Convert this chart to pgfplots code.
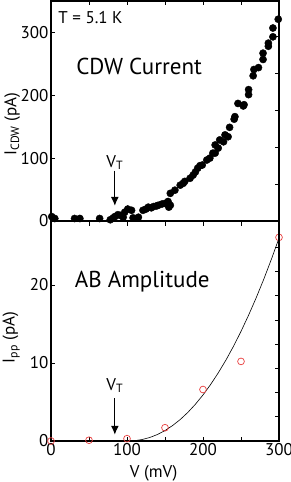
\documentclass[border=0pt]{standalone}
\usepackage{pgfplots}
\pgfplotsset{compat=1.18}
\usepackage{fontspec}
\setmainfont{PT Sans}
\usetikzlibrary{arrows.meta}
\definecolor{circred}{RGB}{232,62,62}
\begin{document}
\begin{tikzpicture}
\pgfplotsset{
  panel/.style={
    scale only axis, width=228pt, height=220pt,
    xmin=0, xmax=300,
    tick align=inside, major tick length=4.5pt,
    every tick/.style={line width=0.8pt, black},
    axis line style={line width=2pt},
    /pgf/number format/assume math mode=true,
    ticklabel style={font=\fontsize{17}{20}\selectfont},
    label style={font=\fontsize{17}{20}\selectfont},
    xticklabel style={yshift=1pt},
    clip=false,
  },
  overlayR/.style={
    scale only axis, width=228pt, height=220pt,
    xmin=0, xmax=300, hide x axis,
    axis y line*=right, y axis line style={line width=2pt},
    tick align=inside, major tick length=4.5pt,
    every tick/.style={line width=0.8pt, black},
    yticklabels={},
  }
}
% ---------------- top panel
\begin{axis}[panel, at={(0pt,220pt)}, anchor=south west,
  ymin=0, ymax=350,
  ytick={0,100,200,300}, ytick pos=left,
  xtick={50,100,150,200,250}, xticklabels={}, xtick pos=right,
  ylabel={I\textsubscript{CDW} (pA)},
  ylabel style={at={(axis description cs:-0.17,0.44)}, anchor=center},
  yticklabel style={xshift=1pt},
]
\addplot[only marks, mark=*, mark size=3.6pt, black] coordinates {
(1,7)(5,4)(31,4)(38,4)(64,4)(78,2)(82,5)(84,7)(88,10)(91,9)(95,6)(97,14)(101,19)(106,17)(108,5)(115,6)
(121,17)(125,19)(128,22)(132,21)(135,23)(139,24)(141,25)(146,27)(150,28)(154,31)(157,25)(155,22)
(157,44)(163,49)(170,57)(174,60)(176,63)(183,68)(187,73)(190,78)(193,84)(196,88)(199,89)(205,97)
(209,100)(213,108)(216,108)(216,121)(220,116)(222,129)(227,126)(229,137)(233,134)(235,149)
(241,162)(242,166)(246,187)(253,183)(254,185)(260,201)(260,209)(266,231)(267,241)(273,244)
(279,257)(279,267)(286,278)(286,283)(292,293)(292,307)(299,321)
};
\node[font=\fontsize{17}{20}\selectfont] at (axis cs:52,324) {T = 5.1 K};
\node[font=\fontsize{23}{27}\selectfont] at (axis cs:116,246) {CDW Current};
\node[font=\fontsize{17}{20}\selectfont] at (axis cs:84,93) {V\textsubscript{T}};
\draw[-{Latex[length=9pt,width=8pt]}, line width=1.3pt] (axis cs:84,80) -- (axis cs:84,24);
\end{axis}
\begin{axis}[overlayR, at={(0pt,220pt)}, anchor=south west,
  ymin=0, ymax=350, ytick={58.6,117.2,175.8,234.4,293}]
\addplot[draw=none] coordinates {(0,0)};
\end{axis}
% ---------------- bottom panel
\begin{axis}[panel, at={(0pt,0pt)}, anchor=south west,
  ymin=0, ymax=28.2,
  ytick={0,10,20}, ytick pos=left,
  xtick={0,50,100,150,200,250,300}, xticklabels={0,,100,,200,,300},
  xlabel={V (mV)},
  ylabel={I\textsubscript{pp} (pA)},
  ylabel style={at={(axis description cs:-0.175,0.47)}, anchor=center},
  xlabel style={at={(axis description cs:0.45,-0.095)}, anchor=north},
  yticklabel style={xshift=1pt},
]
\addplot[black, line width=0.6pt] coordinates {
(100,0)(110,0.04)(120,0.19)(130,0.45)(140,0.83)(150,1.34)(160,1.98)(170,2.75)(180,3.66)(190,4.71)
(200,5.90)(210,7.24)(220,8.72)(230,10.34)(240,12.12)(250,14.05)(260,16.13)(270,18.36)(280,20.75)(290,23.30)(300,26.0)
};
\addplot[only marks, mark=o, mark size=3.4pt, circred, line width=0.7pt] coordinates {
(0,0)(50,0.1)(100,0.3)(150,1.7)(200,6.6)(250,10.2)(300,26.1)
};
\node[font=\fontsize{23}{27}\selectfont] at (axis cs:120,20.4) {AB Amplitude};
\node[font=\fontsize{17}{20}\selectfont] at (axis cs:84,7.1) {V\textsubscript{T}};
\draw[-{Latex[length=9pt,width=8pt]}, line width=1.3pt] (axis cs:84,5.5) -- (axis cs:84,0.8);
\end{axis}
\begin{axis}[overlayR, at={(0pt,0pt)}, anchor=south west,
  ymin=0, ymax=28.2, ytick={3.1,6.2,9.3,12.4,15.5,18.6,21.7,24.8}]
\addplot[draw=none] coordinates {(0,0)};
\end{axis}
\pgfresetboundingbox
\useasboundingbox (-51pt,-41pt) rectangle (240pt,441pt);
\end{tikzpicture}
\end{document}
